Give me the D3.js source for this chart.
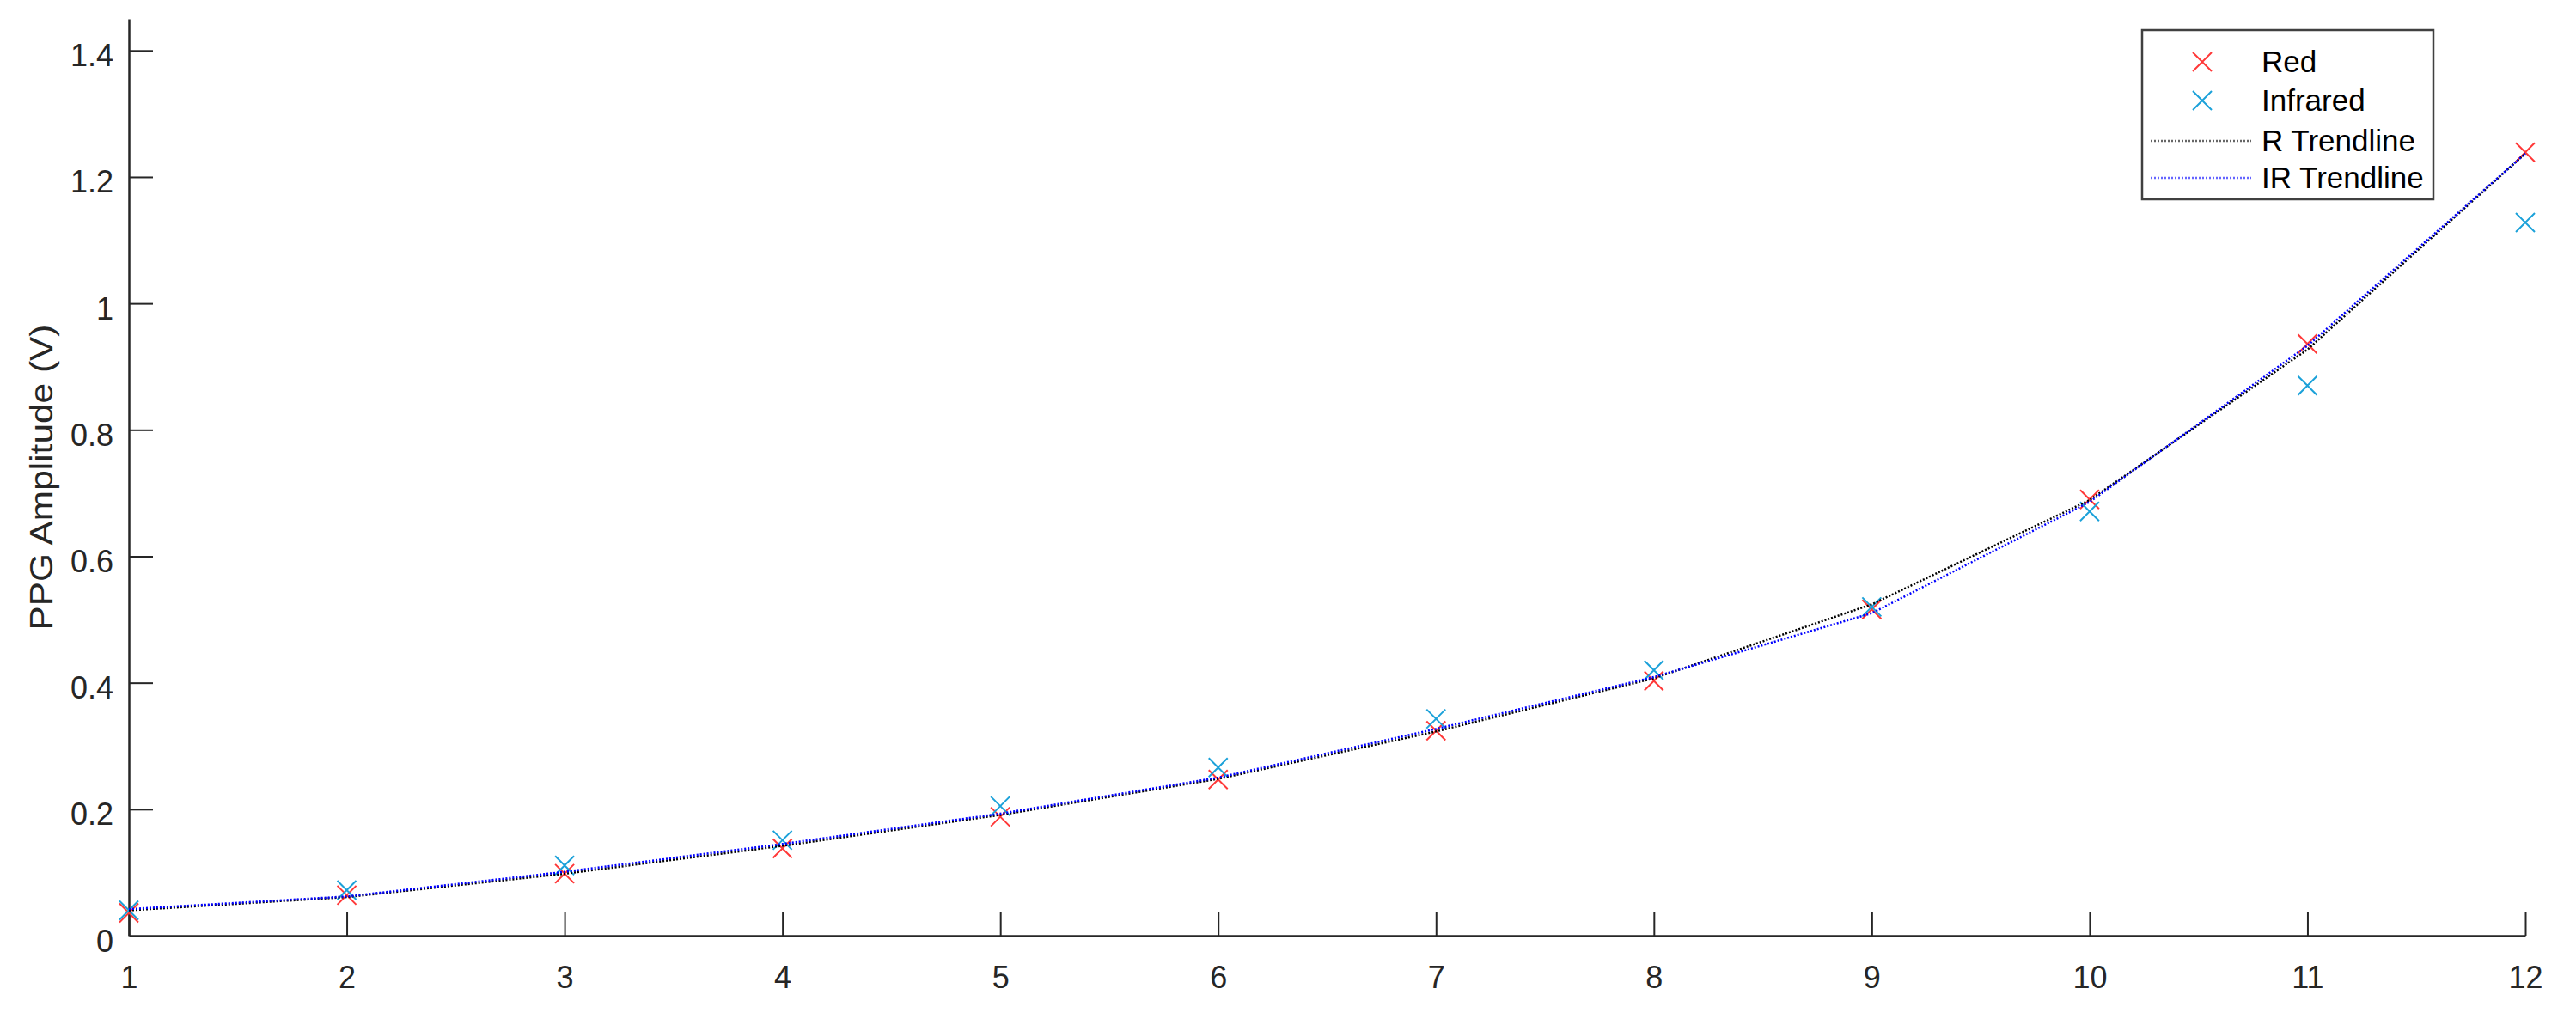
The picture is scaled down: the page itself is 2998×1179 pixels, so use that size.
<!DOCTYPE html>
<html>
<head>
<meta charset="utf-8">
<script src="https://cdn.jsdelivr.net/npm/d3@7"></script>
<style>
  html, body { margin: 0; padding: 0; background: #fff; }
  svg { display: block; }
  text { font-family: "Liberation Sans", Arial, Helvetica, sans-serif; }
</style>
</head>
<body>
<script>
// ---- Data ----
const xValues = [1, 2, 3, 4, 5, 6, 7, 8, 9, 10, 11, 12];
const redValues = [0.036, 0.064, 0.098, 0.138, 0.188, 0.247, 0.324, 0.403, 0.516, 0.690, 0.936, 1.239];
const infraredValues = [0.040, 0.072, 0.111, 0.151, 0.205, 0.266, 0.343, 0.420, 0.520, 0.671, 0.870, 1.128];
const rTrendValues = [0.040, 0.061, 0.098, 0.142, 0.191, 0.248, 0.323, 0.407, 0.524, 0.689, 0.927, 1.237];
const irTrendValues = [0.042, 0.062, 0.101, 0.145, 0.193, 0.250, 0.327, 0.409, 0.510, 0.686, 0.933, 1.237];
const xTicks = [1, 2, 3, 4, 5, 6, 7, 8, 9, 10, 11, 12];
const yTicks = [0, 0.2, 0.4, 0.6, 0.8, 1, 1.2, 1.4];
const yTickLabels = ["0", "0.2", "0.4", "0.6", "0.8", "1", "1.2", "1.4"];
const legendLabels = ["Red", "Infrared", "R Trendline", "IR Trendline"];
const yAxisTitle = "PPG Amplitude (V)";

// ---- Layout ----
const W = 2998, H = 1179;
const mLeft = 150, mRight = 2939, mTop = 22, mBottom = 1089;
const axisColor = "#262626";
const redColor = "#ff3838";
const irColor = "#1ba1d9";

const svg = d3.select("body").append("svg")
  .attr("width", W).attr("height", H);

const x = d3.scaleLinear().domain([1, 12]).range([mLeft, mRight]);
const y = d3.scaleLinear().domain([0, 1.45]).range([mBottom, mTop]);

// ---- Axes ----
const xAxis = d3.axisBottom(x).tickValues(xTicks).tickSizeInner(-28).tickSizeOuter(0).tickFormat(d3.format("d"));
const gx = svg.append("g").attr("transform", `translate(0,${mBottom})`).call(xAxis);
gx.select(".domain").attr("stroke", axisColor).attr("stroke-width", 2.5);
gx.selectAll(".tick line").attr("stroke", axisColor).attr("stroke-width", 2);
gx.selectAll(".tick text")
  .attr("fill", axisColor).attr("font-size", 36)
  .attr("y", 0).attr("dy", 0)
  .attr("transform", "translate(0,61)");

const yAxis = d3.axisLeft(y).tickValues(yTicks).tickSizeInner(-28).tickSizeOuter(0)
  .tickFormat((d, i) => yTickLabels[i]);
const gy = svg.append("g").attr("transform", `translate(${mLeft},0)`).call(yAxis);
gy.select(".domain").attr("stroke", axisColor).attr("stroke-width", 2.5);
gy.selectAll(".tick line").attr("stroke", axisColor).attr("stroke-width", 2)
  .attr("display", d => d === 0 ? "none" : null);
gy.selectAll(".tick text")
  .attr("fill", axisColor).attr("font-size", 36)
  .attr("x", -18).attr("dy", "0.5em");

// Y axis title
svg.append("text")
  .attr("transform", `translate(61,${(mTop + mBottom) / 2}) rotate(-90)`)
  .attr("text-anchor", "middle")
  .attr("font-size", 37)
  .attr("fill", axisColor)
  .attr("textLength", 356)
  .attr("lengthAdjust", "spacingAndGlyphs")
  .text(yAxisTitle);

// ---- Marks ----
const ms = 11;
function drawCrosses(values, color) {
  const g = svg.append("g");
  g.selectAll("path").data(values).join("path")
    .attr("d", (d, i) => {
      const cx = x(xValues[i]), cy = y(d);
      return `M${cx - ms},${cy - ms}L${cx + ms},${cy + ms}M${cx - ms},${cy + ms}L${cx + ms},${cy - ms}`;
    })
    .attr("stroke", color).attr("stroke-width", 2).attr("fill", "none");
}
drawCrosses(redValues, redColor);
drawCrosses(infraredValues, irColor);

const line = d3.line().x((d, i) => x(xValues[i])).y(d => y(d));
svg.append("path").datum(rTrendValues)
  .attr("d", line).attr("fill", "none")
  .attr("stroke", "#000").attr("stroke-width", 2.5).attr("stroke-dasharray", "2,2");
svg.append("path").datum(irTrendValues)
  .attr("d", line).attr("fill", "none")
  .attr("stroke", "#0000ff").attr("stroke-width", 2.5).attr("stroke-dasharray", "2,2");

// ---- Legend ----
const lg = svg.append("g");
lg.append("rect").attr("x", 2493).attr("y", 35).attr("width", 339).attr("height", 197)
  .attr("fill", "#fff").attr("stroke", "#404040").attr("stroke-width", 2.5);
const rowY = [72, 117, 164, 207];
legendLabels.forEach((lab, i) => {
  const cy = rowY[i];
  if (i < 2) {
    const cx = 2563, s = 11;
    lg.append("path")
      .attr("d", `M${cx - s},${cy - s}L${cx + s},${cy + s}M${cx - s},${cy + s}L${cx + s},${cy - s}`)
      .attr("stroke", i === 0 ? redColor : irColor).attr("stroke-width", 2).attr("fill", "none");
  } else {
    lg.append("line").attr("x1", 2503).attr("x2", 2620).attr("y1", cy).attr("y2", cy)
      .attr("stroke", i === 2 ? "#000" : "#0000ff").attr("stroke-width", 2.5)
      .attr("stroke-dasharray", "2,2").attr("opacity", 0.6);
  }
  lg.append("text").attr("x", 2632).attr("y", cy + 12)
    .attr("font-size", 35).attr("fill", "#000").text(lab);
});
</script>
</body>
</html>
